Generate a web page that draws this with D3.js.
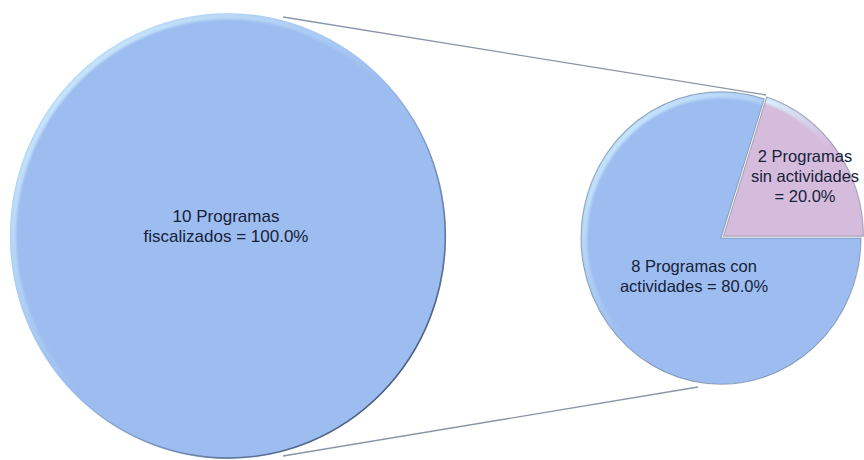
<!DOCTYPE html>
<html><head><meta charset="utf-8">
<script src="https://cdn.jsdelivr.net/npm/d3@7"></script>
<style>
html,body{margin:0;padding:0;background:#fff;}
svg{display:block;}
</style></head>
<body>
<svg id="chart" width="864" height="460"></svg>
<script>
// ---- data ----
const mainCategories = ["Programas fiscalizados"];
const mainValues = [10];
const mainLabels = [["10 Programas", "fiscalizados = 100.0%"]];

const subCategories = ["Programas sin actividades", "Programas con actividades"];
const subValues = [2, 8];
const subLabels = [["2 Programas", "sin actividades", "= 20.0%"], ["8 Programas con", "actividades = 80.0%"]];
const subColors = ["#d6bcdc", "#9dbdf0"];
const mainColor = "#9dbdf0";

const svg = d3.select("#chart");
const defs = svg.append("defs");

// highlight & rim gradients
const hl = defs.append("linearGradient").attr("id","hl").attr("x1","0").attr("y1","0").attr("x2","1").attr("y2","1");
hl.append("stop").attr("offset","0").attr("stop-color","#d6f4ff").attr("stop-opacity",1);
hl.append("stop").attr("offset","0.5").attr("stop-color","#d6f4ff").attr("stop-opacity",0);
const rim = defs.append("linearGradient").attr("id","rim").attr("x1","0").attr("y1","0").attr("x2","1").attr("y2","1");
rim.append("stop").attr("offset","0.5").attr("stop-color","#2e3d58").attr("stop-opacity",0);
rim.append("stop").attr("offset","0.85").attr("stop-color","#2e3d58").attr("stop-opacity",0.75);
const blur = defs.append("filter").attr("id","soft").attr("x","-10%").attr("y","-10%").attr("width","120%").attr("height","120%");
blur.append("feGaussianBlur").attr("stdDeviation",1.2);

// ---- connector lines ----
const line = d3.line();
svg.append("path").attr("d", line([[283,17],[766,95]])).attr("stroke","#8a95a6").attr("stroke-width",1.3).attr("fill","none");
svg.append("path").attr("d", line([[283,456],[698,387]])).attr("stroke","#8a95a6").attr("stroke-width",1.3).attr("fill","none");

// ---- main pie ----
const R1 = 218;
const gMain = svg.append("g").attr("transform","translate(228,236) scale(1,1.022)");
const pieMain = d3.pie().sort(null).value(d => d);
const arcMain = d3.arc().innerRadius(0).outerRadius(R1);
gMain.selectAll("path.slice").data(pieMain(mainValues)).join("path")
  .attr("class","slice").attr("d", arcMain).attr("fill", mainColor);
gMain.append("circle").attr("r", R1-3).attr("fill","none").attr("stroke","url(#hl)").attr("stroke-width",6).attr("filter","url(#soft)");
gMain.append("circle").attr("r", R1-0.7).attr("fill","none").attr("stroke","url(#rim)").attr("stroke-width",1.6);

const textColor = "#17223a";
const font = "'Liberation Sans', Arial, sans-serif";
mainLabels.forEach(lines => {
  const t = svg.append("text").attr("x",226).attr("y",222).attr("text-anchor","middle")
    .attr("font-family",font).attr("font-size",17).attr("fill",textColor);
  lines.forEach((l,i) => t.append("tspan").attr("x",226).attr("dy", i===0?0:20).text(l));
});

// ---- sub pie ----
const R2 = 140;
const cx2 = 721, cy2 = 238;
const a0 = Math.PI/10;
const pieSub = d3.pie().sort(null).value(d => d).startAngle(a0).endAngle(a0 + 2*Math.PI);
const arcSub = d3.arc().innerRadius(0).outerRadius(R2);
const gSub = svg.append("g").attr("transform",`translate(${cx2},${cy2}) scale(1,1.045)`);
const subArcs = pieSub(subValues);
const explode = [3, 0];
gSub.selectAll("g.slice").data(subArcs).join("g").attr("class","slice")
  .attr("transform",(d,i)=>{
    const m=(d.startAngle+d.endAngle)/2;
    return `translate(${explode[i]*Math.sin(m)},${-explode[i]*Math.cos(m)})`;
  })
  .each(function(d,i){
    const g = d3.select(this);
    g.append("path").attr("d", arcSub(d)).attr("fill", subColors[i]);
    const inner = d3.arc().innerRadius(R2-6).outerRadius(R2).startAngle(d.startAngle).endAngle(d.endAngle);
    g.append("path").attr("d", inner()).attr("fill","url(#hl)").attr("filter","url(#soft)");
    g.append("path").attr("d", arcSub(d)).attr("fill","none").attr("stroke","#4a5670").attr("stroke-opacity",0.45).attr("stroke-width",1);
  });

const subLabelPos = [[805,162],[694,272]];
subLabels.forEach((lines,k) => {
  const [x,y] = subLabelPos[k];
  const t = svg.append("text").attr("x",x).attr("y",y).attr("text-anchor","middle")
    .attr("font-family",font).attr("font-size",16.5).attr("fill",textColor);
  lines.forEach((l,i) => t.append("tspan").attr("x",x).attr("dy", i===0?0:20).text(l));
});
</script>
</body></html>
